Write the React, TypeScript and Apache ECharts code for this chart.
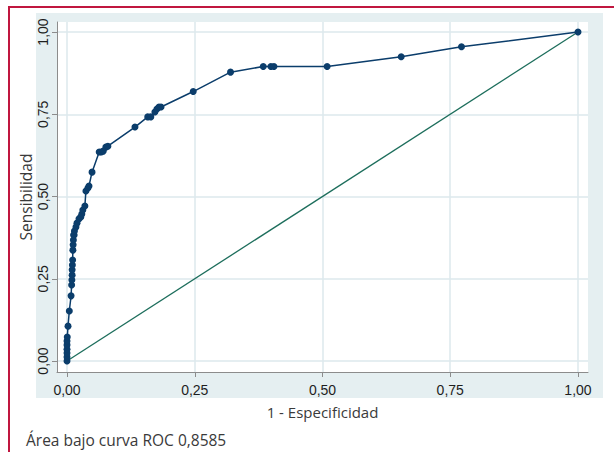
import React, { useEffect, useRef } from "react";
import * as echarts from "echarts";

// 1 - Especificidad (false positive rate)
const fpr = [
  0, 0, 0, 0, 0, 0, 0.0005, 0.002, 0.0045, 0.008,
  0.009, 0.0095, 0.01, 0.01, 0.0105, 0.011, 0.0115, 0.012, 0.0125, 0.013,
  0.014, 0.0145, 0.0175, 0.0195, 0.0235, 0.027, 0.029, 0.031, 0.035, 0.037,
  0.041, 0.043, 0.049, 0.063, 0.067, 0.071, 0.076, 0.08, 0.133, 0.158,
  0.164, 0.172, 0.176, 0.18, 0.184, 0.247, 0.32, 0.384, 0.399, 0.405,
  0.509, 0.654, 0.772, 1,
];
// Sensibilidad (true positive rate)
const tpr = [
  0, 0.012, 0.024, 0.036, 0.049, 0.061, 0.073, 0.106, 0.152, 0.198,
  0.231, 0.246, 0.261, 0.277, 0.292, 0.307, 0.337, 0.353, 0.368, 0.383,
  0.383, 0.395, 0.407, 0.419, 0.432, 0.438, 0.447, 0.459, 0.471, 0.517,
  0.526, 0.532, 0.574, 0.635, 0.635, 0.638, 0.65, 0.653, 0.711, 0.742,
  0.742, 0.757, 0.766, 0.772, 0.772, 0.819, 0.878, 0.895, 0.895, 0.895,
  0.895, 0.925, 0.955, 1,
];
const diagX = [0, 1];
const diagY = [0, 1];
const tickValues = [0, 0.25, 0.5, 0.75, 1];
const xTitle = "1 - Especificidad";
const yTitle = "Sensibilidad";
const footnote = "Área bajo curva ROC 0,8585";

const FONT = "Open Sans";
const TICK_FONT = "Liberation Sans";
const fmt = (v: number) => v.toFixed(2).replace(".", ",");

export default function App() {
  const ref = useRef<HTMLDivElement>(null);
  useEffect(() => {
    if (!ref.current) return;
    const chart = echarts.init(ref.current, null, { renderer: "svg" });
    const gridLine = { show: true, lineStyle: { color: "#dde9ed", width: 1.5 } };
    chart.setOption({
      animation: false,
      backgroundColor: "#ffffff",
      textStyle: { fontFamily: FONT },
      graphic: [
        { type: "rect", silent: true, z: -10, shape: { x: 36, y: 13, width: 567, height: 385 }, style: { fill: "#e5eff1" } },
        { type: "rect", silent: true, z: 10, shape: { x: 8, y: 6, width: 2, height: 446 }, style: { fill: "#c0163f" } },
        { type: "rect", silent: true, z: 10, shape: { x: 8, y: 6, width: 606, height: 2 }, style: { fill: "#c0163f" } },
      ],
      title: {
        text: footnote,
        left: 21,
        top: 427,
        textStyle: { fontFamily: FONT, fontSize: 15.5, fontWeight: "normal", color: "#3a3a3a" },
      },
      grid: {
        left: 57,
        right: 26,
        top: 22,
        bottom: 80,
        show: true,
        backgroundColor: "#ffffff",
        borderWidth: 0,
      },
      xAxis: {
        type: "value",
        min: -0.01957,
        max: 1.01957,
        name: xTitle,
        nameLocation: "middle",
        nameGap: 32,
        nameMoveOverlap: false,
        nameTextStyle: { fontFamily: FONT, fontSize: 15, color: "#3a3a3a" },
        axisLine: { show: true, onZero: false, lineStyle: { color: "#8c8c8c", width: 1 } },
        axisTick: { show: true, length: 5, customValues: tickValues, lineStyle: { color: "#8c8c8c" } },
        axisLabel: {
          customValues: tickValues,
          formatter: fmt,
          margin: 11,
          fontFamily: TICK_FONT,
          fontSize: 14,
          color: "#1e1e1e",
        },
        splitLine: gridLine,
      },
      yAxis: {
        type: "value",
        min: -0.03343,
        max: 1.0304,
        name: yTitle,
        nameLocation: "middle",
        nameGap: 23,
        nameMoveOverlap: false,
        nameTextStyle: { fontFamily: FONT, fontSize: 15.5, color: "#3a3a3a" },
        axisLine: { show: true, onZero: false, lineStyle: { color: "#8c8c8c", width: 1 } },
        axisTick: { show: true, length: 5, customValues: tickValues, lineStyle: { color: "#8c8c8c" } },
        axisLabel: {
          customValues: tickValues,
          formatter: fmt,
          rotate: 90,
          margin: 7,
          fontFamily: TICK_FONT,
          fontSize: 14,
          color: "#1e1e1e",
        },
        splitLine: gridLine,
      },
      series: [
        {
          type: "line",
          data: diagX.map((x, i) => [x, diagY[i]]),
          showSymbol: false,
          symbol: "none",
          lineStyle: { color: "#1d6e5c", width: 1.3 },
          z: 2,
        },
        {
          type: "line",
          data: fpr.map((x, i) => [x, tpr[i]]),
          symbol: "circle",
          symbolSize: 7,
          itemStyle: { color: "#0b3d6b" },
          lineStyle: { color: "#0b3d6b", width: 1.5 },
          z: 3,
        },
      ],
    });
    return () => chart.dispose();
  }, []);
  return <div ref={ref} style={{ position: "fixed", left: 0, top: 0, width: 614, height: 452 }} />;
}
